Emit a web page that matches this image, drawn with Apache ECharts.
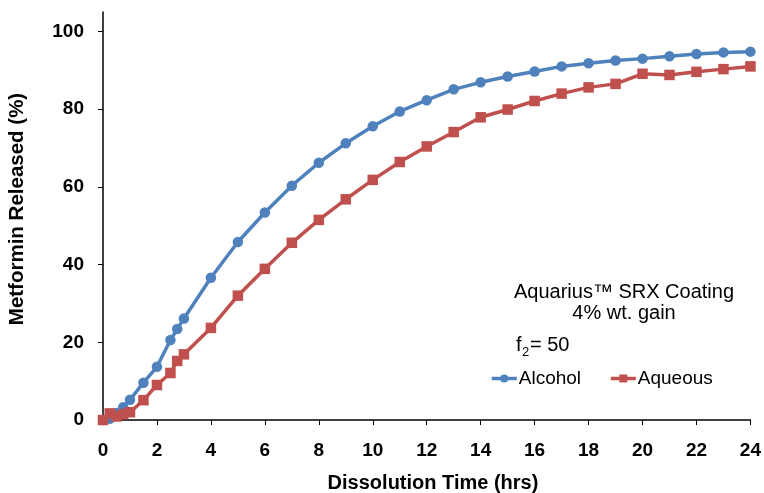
<!DOCTYPE html>
<html>
<head>
<meta charset="utf-8">
<script src="https://cdn.jsdelivr.net/npm/echarts@6/dist/echarts.min.js"></script>
<style>
html,body{margin:0;padding:0;background:#fff;}
#chart{width:764px;height:493px;}
</style>
</head>
<body>
<div id="chart"></div>
<script>
var timeHrs = [0, 0.25, 0.5, 0.75, 1, 1.5, 2, 2.5, 2.75, 3, 4, 5, 6, 7, 8, 9, 10, 11, 12, 13, 14, 15, 16, 17, 18, 19, 20, 21, 22, 23, 24];
var alcohol = [0, 0.3, 1.8, 3.3, 5.2, 9.6, 13.7, 20.6, 23.4, 26.1, 36.6, 45.8, 53.4, 60.3, 66.2, 71.2, 75.6, 79.4, 82.3, 85.1, 86.9, 88.4, 89.7, 91.0, 91.8, 92.5, 93.0, 93.6, 94.2, 94.6, 94.8];
var aqueous = [0, 1.7, 0.9, 1.5, 2.0, 5.1, 9.0, 12.1, 15.2, 16.9, 23.7, 32.0, 38.9, 45.6, 51.5, 56.8, 61.8, 66.4, 70.4, 74.1, 77.9, 79.9, 82.1, 84.0, 85.6, 86.5, 89.1, 88.8, 89.6, 90.3, 91.0];
var yTicks = [0, 20, 40, 60, 80, 100];
var seriesNames = ['Alcohol', 'Aqueous'];
var annotationLines = ['Aquarius\u2122 SRX Coating', '4% wt. gain'];

var FONT = '"Liberation Sans", Arial, Helvetica, sans-serif';
function pairs(xs, ys) { return xs.map(function (x, i) { return [x, ys[i]]; }); }

var chart = echarts.init(document.getElementById('chart'), null, {renderer: 'canvas'});
chart.setOption({
  animation: false,
  backgroundColor: '#ffffff',
  grid: {left: 103, right: 12, top: 12, bottom: 73, containLabel: false},
  xAxis: {
    type: 'value', min: 0, max: 24, interval: 2,
    axisLine: {show: true, lineStyle: {color: '#000', width: 1.5}},
    axisTick: {show: true, inside: false, length: 5, lineStyle: {color: '#000', width: 1}},
    axisLabel: {margin: 21, color: '#000', fontFamily: FONT, fontWeight: 'bold', fontSize: 19},
    splitLine: {show: false}
  },
  yAxis: {
    type: 'value', min: 0, max: 105, interval: 20,
    axisLine: {show: true, lineStyle: {color: '#000', width: 1.5}},
    axisTick: {show: true, inside: false, length: 5, customValues: yTicks, lineStyle: {color: '#000', width: 1}},
    axisLabel: {margin: 19, color: '#000', fontFamily: FONT, fontWeight: 'bold', fontSize: 19, customValues: yTicks,
      formatter: function (v) { return v > 100 ? '' : String(v); }},
    splitLine: {show: false}
  },
  legend: {
    show: true, left: 490, top: 369, padding: 0, itemWidth: 25, itemHeight: 10, itemGap: 28,
    lineStyle: {width: 3.5},
    textStyle: {fontFamily: FONT, fontSize: 19, color: '#000', padding: [0, 0, 0, -3]},
    data: seriesNames
  },
  series: [
    {name: seriesNames[0], type: 'line', data: pairs(timeHrs, alcohol), symbol: 'circle', symbolSize: 10.5,
     lineStyle: {color: '#4F81BD', width: 3.5}, itemStyle: {color: '#4F81BD'}, z: 2},
    {name: seriesNames[1], type: 'line', data: pairs(timeHrs, aqueous), symbol: 'rect', symbolSize: 10.5,
     lineStyle: {color: '#C0504D', width: 3.5}, itemStyle: {color: '#C0504D'}, z: 3}
  ],
  graphic: [
    {type: 'text', x: 17.5, y: 209, rotation: Math.PI / 2,
     style: {text: 'Metformin Released (%)', font: 'bold 20.5px ' + FONT, fill: '#000', textAlign: 'center', textVerticalAlign: 'middle'}},
    {type: 'text', x: 433, y: 483,
     style: {text: 'Dissolution Time (hrs)', font: 'bold 20px ' + FONT, fill: '#000', textAlign: 'center', textVerticalAlign: 'middle'}},
    {type: 'text', x: 624, y: 292,
     style: {text: annotationLines[0], font: '20px ' + FONT, fill: '#000', textAlign: 'center', textVerticalAlign: 'middle'}},
    {type: 'text', x: 624, y: 313,
     style: {text: annotationLines[1], font: '20px ' + FONT, fill: '#000', textAlign: 'center', textVerticalAlign: 'middle'}},
    {type: 'text', x: 516, y: 345,
     style: {text: 'f', font: '20px ' + FONT, fill: '#000', textAlign: 'left', textVerticalAlign: 'middle'}},
    {type: 'text', x: 522, y: 352,
     style: {text: '2', font: '13px ' + FONT, fill: '#000', textAlign: 'left', textVerticalAlign: 'middle'}},
    {type: 'text', x: 530, y: 345,
     style: {text: '= 50', font: '20px ' + FONT, fill: '#000', textAlign: 'left', textVerticalAlign: 'middle'}}
  ]
});
</script>
</body>
</html>
